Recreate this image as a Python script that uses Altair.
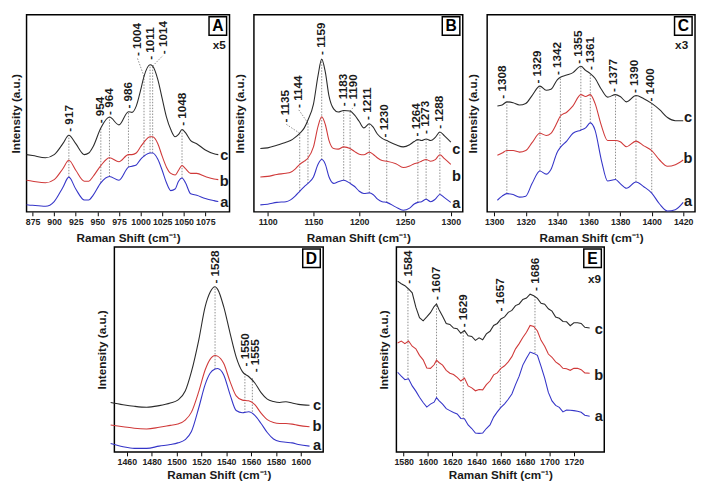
import altair as alt
import pandas as pd

FONT = "Liberation Sans Narrow, Liberation Sans, Arial"
FONT2 = "Liberation Sans, Arial"
BLUE = "#3535c8"
RED = "#d03a3a"
BLACK = "#2b2b2b"

# ---------------- Panel A ----------------
A_x = [868, 875, 890, 900, 910, 917, 925, 935, 940, 945, 954, 964, 975, 986, 990, 995, 1000,
       1004, 1011, 1014, 1020, 1025, 1030, 1035, 1040, 1044, 1048, 1052, 1058, 1065, 1075, 1085, 1090]
A_c = [245, 242, 235, 245, 280, 307, 280, 245, 250, 270, 330, 365, 340, 382, 380, 400, 450,
       495, 532, 528, 485, 425, 365, 325, 302, 310, 325, 315, 290, 280, 260, 248, 245]
A_b = [163, 160, 155, 165, 200, 227, 195, 160, 160, 175, 210, 235, 222, 245, 245, 250, 270,
       285, 302, 302, 280, 240, 205, 185, 180, 195, 210, 200, 185, 185, 175, 167, 165]
A_a = [85, 83, 80, 95, 140, 173, 135, 100, 100, 115, 155, 175, 163, 205, 208, 212, 230,
       240, 250, 250, 230, 195, 155, 130, 135, 160, 170, 155, 120, 115, 105, 98, 95]
A_ticks = [875, 900, 925, 950, 975, 1000, 1025, 1050, 1075]
A_peaks = [("917", 917, 173, 307, 917, 318, 0), ("954", 954, 155, 330, 953, 345, 0),
           ("964", 964, 175, 365, 964, 372, 0), ("986", 986, 205, 382, 986, 392, 0),
           ("1004", 1004, 240, 495, 996, 560, 1), ("1011", 1011, 250, 532, 1011, 548, 0),
           ("1014", 1014, 250, 528, 1026, 566, 1), ("1048", 1048, 170, 325, 1048, 337, 0)]
A_lab = (1097, [242, 160, 92])

# ---------------- Panel B ----------------
B_x = [1092, 1100, 1110, 1120, 1125, 1130, 1135, 1140, 1144, 1150, 1155, 1159, 1163, 1167, 1172,
       1177, 1183, 1190, 1195, 1200, 1205, 1211, 1215, 1220, 1225, 1230, 1240, 1248, 1255, 1260,
       1264, 1268, 1273, 1278, 1283, 1288, 1293, 1300]
B_c = [270, 272, 280, 290, 295, 305, 318, 335, 360, 410, 500, 552, 510, 435, 395, 385, 390, 388,
       375, 355, 335, 348, 338, 315, 302, 295, 282, 275, 282, 292, 298, 295, 300, 295, 305, 322, 310, 290]
B_b = [180, 182, 188, 192, 195, 205, 220, 230, 240, 275, 340, 370, 345, 295, 270, 268, 275, 270,
       260, 252, 250, 258, 252, 240, 232, 230, 222, 210, 215, 222, 225, 230, 235, 230, 235, 250, 238, 220]
B_a = [92, 94, 100, 102, 108, 120, 135, 150, 160, 180, 220, 235, 220, 180, 160, 165, 170, 160,
       150, 135, 128, 130, 125, 110, 102, 100, 85, 75, 82, 95, 100, 102, 110, 102, 110, 125, 115, 100]
B_ticks = [1100, 1150, 1200, 1250, 1300]
B_peaks = [("1135", 1135, 135, 318, 1119.5, 352, 1), ("1144", 1144, 160, 350, 1133.5, 398, 1),
           ("1159", 1159, 235, 552, 1158, 565, 0), ("1183", 1183, 170, 390, 1182, 403, 0),
           ("1190", 1190, 160, 388, 1193, 402, 1), ("1211", 1211, 130, 348, 1209, 360, 0),
           ("1230", 1230, 100, 295, 1227.5, 305, 0), ("1264", 1264, 100, 298, 1262.5, 308, 0),
           ("1273", 1273, 110, 300, 1272, 316, 0), ("1288", 1288, 125, 322, 1287, 332, 0)]
B_lab = (1306, [268, 182, 98])

# ---------------- Panel C ----------------
C_x = [1302, 1305, 1308, 1312, 1316, 1320, 1324, 1329, 1333, 1336, 1340, 1342, 1346, 1350, 1355,
       1358, 1361, 1364, 1368, 1372, 1377, 1380, 1384, 1390, 1395, 1400, 1405, 1410, 1415, 1420]
C_c = [402, 405, 415, 412, 405, 410, 435, 465, 452, 455, 485, 493, 500, 508, 528,
       515, 505, 490, 455, 430, 438, 432, 415, 435, 425, 410, 390, 365, 355, 355]
C_b = [245, 252, 260, 260, 255, 260, 285, 315, 308, 315, 350, 370, 382, 402, 438,
       432, 438, 410, 340, 292, 292, 288, 272, 290, 275, 260, 230, 210, 215, 230]
C_a = [102, 115, 123, 120, 112, 115, 155, 195, 185, 200, 255, 270, 290, 315, 325,
       332, 348, 325, 230, 163, 168, 155, 140, 160, 145, 125, 90, 68, 72, 95]
C_ticks = [1300, 1320, 1340, 1360, 1380, 1400, 1420]
C_peaks = [("1308", 1308, 123, 415, 1305, 425, 0), ("1329", 1329, 195, 465, 1327, 473, 0),
           ("1342", 1342, 270, 493, 1340, 500, 0), ("1355", 1355, 325, 528, 1353.5, 536, 0),
           ("1361", 1361, 348, 505, 1361, 516, 0), ("1377", 1377, 168, 438, 1375.5, 446, 0),
           ("1390", 1390, 160, 435, 1388.5, 443, 0), ("1400", 1400, 125, 410, 1399, 416, 0)]
C_lab = (1423, [365, 235, 100])

# ---------------- Panel D ----------------
D_x = [1447, 1457, 1466, 1476, 1486, 1495, 1501, 1507, 1512, 1518, 1523, 1527, 1531, 1533,
       1538, 1543, 1548, 1553, 1558, 1563, 1568, 1573, 1578, 1583, 1588, 1593, 1598, 1607]
D_c = [205, 198, 193, 190, 195, 203, 212, 240, 300, 400, 500, 545, 562, 555,
       500, 420, 345, 300, 285, 265, 235, 215, 208, 205, 207, 203, 199, 196]
D_b = [135, 130, 125, 123, 128, 134, 138, 150, 175, 240, 305, 338, 350, 348,
       325, 270, 225, 212, 210, 198, 172, 152, 143, 140, 140, 138, 134, 130]
D_a = [78, 68, 63, 63, 70, 75, 80, 90, 115, 190, 260, 295, 308, 310,
       290, 230, 180, 173, 176, 165, 140, 112, 92, 84, 82, 80, 75, 70]
D_ticks = [1460, 1480, 1500, 1520, 1540, 1560, 1580, 1600]
D_peaks = [("1528", 1531, 308, 562, 1531, 572, 0), ("1550", 1555, 173, 300, 1555.5, 316, 0),
           ("1555", 1561, 176, 283, 1563, 298, 0)]
D_lab = (1613, [197, 132, 73])

# ---------------- Panel E ----------------
E_x = [1575, 1578, 1581, 1584, 1587, 1590, 1593, 1596, 1599, 1602, 1605, 1607, 1609, 1612, 1615,
       1618, 1621, 1624, 1627, 1630, 1633, 1636, 1639, 1642, 1645, 1648, 1651, 1654, 1657, 1660,
       1663, 1666, 1669, 1672, 1675, 1678, 1681, 1684, 1687, 1690, 1693, 1696, 1699, 1702, 1705,
       1708, 1711, 1714, 1717, 1720, 1723, 1726, 1729, 1733]
E_c = [580, 572, 566, 556, 544, 500, 468, 458, 470, 483, 502, 510, 493, 472, 450, 447, 436, 434,
       420, 428, 412, 410, 398, 406, 400, 418, 426, 444, 450, 464, 470, 484, 490, 505, 510, 524,
       528, 540, 535, 527, 512, 509, 495, 488, 470, 466, 456, 455, 443, 452, 452, 450, 438, 436]
E_b = [390, 396, 388, 396, 380, 372, 352, 338, 313, 312, 323, 337, 330, 322, 306, 297, 293, 284,
       273, 282, 258, 252, 243, 247, 246, 262, 273, 292, 298, 312, 320, 332, 348, 372, 388, 407,
       423, 444, 441, 427, 398, 380, 356, 346, 332, 324, 312, 311, 306, 312, 312, 308, 298, 297]
E_a = [300, 288, 277, 280, 258, 242, 223, 207, 193, 202, 208, 222, 213, 202, 188, 182, 176, 172,
       158, 157, 138, 127, 113, 112, 113, 127, 138, 162, 178, 192, 203, 217, 233, 262, 288, 322,
       343, 362, 358, 352, 318, 282, 238, 212, 198, 192, 178, 184, 183, 182, 180, 177, 168, 165]
E_ticks = [1580, 1600, 1620, 1640, 1660, 1680, 1700, 1720]
E_peaks = [("1584", 1583.5, 280, 558, 1583.5, 572, 0), ("1607", 1607, 222, 510, 1607, 522, 0),
           ("1629", 1629, 157, 428, 1629, 438, 0), ("1657", 1659.5, 190, 462, 1659.5, 487, 0),
           ("1686", 1688, 358, 537, 1688, 550, 0)]
E_lab = (1740.5, [432, 292, 165])


def panel(xs, c, b, a, xdom, ydom, ticks, peaks, lab, W, H, tp, letter,
          mult=None, interp="monotone", xtp=6):
    def X(f):
        return alt.X(f"{f}:Q", scale=alt.Scale(domain=xdom, nice=False, zero=False),
                     axis=alt.Axis(values=ticks, format="d", title="Raman Shift (cm⁻¹)",
                                   titleFont=FONT, titleFontSize=12, titleFontWeight="bold",
                                   titleColor="#1a1a1a", titlePadding=xtp,
                                   labelFont=FONT, labelFontSize=9, labelFontWeight="bold",
                                   labelColor="#222", labelPadding=2, labelOverlap=False,
                                   labelFlush=False, tickSize=4, tickColor="black",
                                   domain=False, grid=False))

    def Y(f):
        return alt.Y(f"{f}:Q", scale=alt.Scale(domain=ydom, nice=False, zero=False),
                     axis=alt.Axis(labels=False, ticks=False, domain=False, grid=False,
                                   title="Intensity (a.u.)", titleFont=FONT, titleFontSize=12,
                                   titleFontWeight="bold", titleColor="#1a1a1a",
                                   titlePadding=tp))

    n = len(xs)
    curves = pd.DataFrame({"x": list(xs) * 3, "y": list(c) + list(b) + list(a),
                           "s": ["c"] * n + ["b"] * n + ["a"] * n})
    segs = []
    for t, px, lo, hi, lx, ly, conn in peaks:
        segs.append({"x": px, "y": lo, "x2": px, "y2": hi})
        if conn:
            segs.append({"x": px, "y": hi, "x2": lx, "y2": ly - 4})
    rules = alt.Chart(pd.DataFrame(segs)).mark_rule(
        color="#8c8c8c", strokeWidth=1, strokeDash=[1.5, 1.5]
    ).encode(x=X("x"), y=Y("y"), x2=alt.X2("x2"), y2=alt.Y2("y2"))

    lines = alt.Chart(curves).mark_line(strokeWidth=1.1, interpolate=interp).encode(
        x=X("x"), y=Y("y"),
        color=alt.Color("s:N", scale=alt.Scale(domain=["a", "b", "c"], range=[BLUE, RED, BLACK]),
                        legend=None))

    pl = pd.DataFrame({"x": [p[4] for p in peaks], "y": [p[5] for p in peaks],
                       "t": ["- " + p[0] for p in peaks]})
    ptext = alt.Chart(pl).mark_text(angle=270, align="left", baseline="middle", font=FONT,
                                    fontSize=12, fontWeight="bold", color="#1a1a1a").encode(
        x=X("x"), y=Y("y"), text="t:N")

    cl = pd.DataFrame({"x": [lab[0]] * 3, "y": lab[1], "t": ["c", "b", "a"]})
    ctext = alt.Chart(cl).mark_text(align="center", baseline="middle", font=FONT2,
                                    fontSize=15, fontWeight="bold", color="#1a1a1a").encode(
        x=X("x"), y=Y("y"), text="t:N")

    one = pd.DataFrame({"k": [letter]})
    box = alt.Chart(one).mark_rect(fill="white", stroke="black", strokeWidth=1.5).encode(
        x=alt.value(W - 21), x2=alt.value(W - 3), y=alt.value(2), y2=alt.value(21))
    let = alt.Chart(one).mark_text(font=FONT2, fontSize=16, fontWeight="bold", color="black",
                                   baseline="middle", align="center").encode(
        x=alt.value(W - 12), y=alt.value(12), text="k:N")
    layers = [rules, lines, ptext, ctext, box, let]
    if mult is not None:
        md = pd.DataFrame({"x": [mult[0]], "y": [mult[1]], "t": [mult[2]]})
        layers.append(alt.Chart(md).mark_text(font=FONT2, fontSize=12, fontWeight="bold",
                                              color="#1a1a1a").encode(
            x=X("x"), y=Y("y"), text="t:N"))
    return alt.layer(*layers).properties(width=W, height=H)


pA = panel(A_x, A_c, A_b, A_a, [868, 1103], [62, 692], A_ticks, A_peaks, A_lab, 208, 202, 4.5,
           "A", mult=(1091, 596, "x5"))
pB = panel(B_x, B_c, B_b, B_a, [1085, 1313], [70, 692], B_ticks, B_peaks, B_lab, 214, 202, 7.5,
           "B")
pC = panel(C_x, C_c, C_b, C_a, [1295.5, 1427.5], [65, 692], C_ticks, C_peaks, C_lab, 213, 202,
           7.5, "C", mult=(1419, 596, "x3"))
pD = panel(D_x, D_c, D_b, D_a, [1450, 1618], [52, 685], D_ticks, D_peaks, D_lab, 214, 210, 6,
           "D", xtp=3)
pE = panel(E_x, E_c, E_b, E_a, [1574, 1745], [55, 685], E_ticks, E_peaks, E_lab, 213, 210, 6,
           "E", mult=(1737, 586, "x9"), interp="linear", xtp=3)

spacer = alt.Chart(pd.DataFrame({"v": [0]})).transform_filter("datum.v > 1").mark_point(
    opacity=0
).encode(
    x=alt.X("v:Q", axis=None), y=alt.Y("v:Q", axis=None)
).properties(width=16, height=10, view=alt.ViewBackground(stroke="transparent", strokeWidth=0))

row1 = alt.hconcat(pA, pB, pC, spacing=2)
row2 = alt.hconcat(spacer, pD, pE, spacing=54)
chart = alt.vconcat(row1, row2, spacing=2).properties(
    padding=0, background="white"
).configure_view(stroke="black", strokeWidth=1.5)

chart.save("out.html", embed_options={"renderer": "svg", "actions": False})
